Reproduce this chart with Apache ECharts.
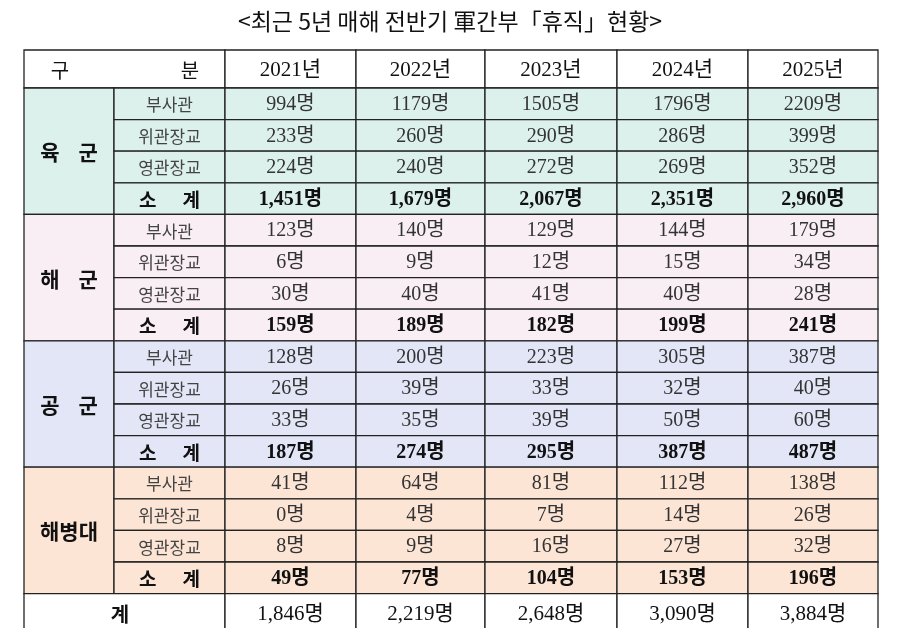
<!DOCTYPE html>
<html><head><meta charset="utf-8">
<script src="https://cdn.jsdelivr.net/npm/echarts@6/dist/echarts.min.js"></script>
<style>html,body{margin:0;background:#fff}#c{width:900px;height:628px}</style>
</head><body><div id="c"></div>
<script>
const title = '<최근 5년 매해 전반기 軍간부「휴직」현황>';
const years = ['2021년','2022년','2023년','2024년','2025년'];
const branches = ['육    군','해    군','공    군','해병대'];
const ranks = ['부사관','위관장교','영관장교','소      계'];
const army   = [[994,1179,1505,1796,2209],[233,260,290,286,399],[224,240,272,269,352],[1451,1679,2067,2351,2960]];
const navy   = [[123,140,129,144,179],[6,9,12,15,34],[30,40,41,40,28],[159,189,182,199,241]];
const air    = [[128,200,223,305,387],[26,39,33,32,40],[33,35,39,50,60],[187,274,295,387,487]];
const marine = [[41,64,81,112,138],[0,4,7,14,26],[8,9,16,27,32],[49,77,104,153,196]];
const total  = [1846,2219,2648,3090,3884];
const values = [army,navy,air,marine];

// layout
const colEdges = [24,114,225,356,485,617,748,878];
const headTop = 50, headBot = 88, rowH = 31.6;
const fills = ['#dcf1ec','#f8eef3','#e3e6f7','#fce5d5'];
const serif = '"Liberation Serif", "Noto Sans CJK KR", serif';
const sans = '"Noto Sans CJK KR", sans-serif';

const fmt = (v,comma) => (comma ? v.toLocaleString('en-US') : String(v)) + '명';
const cells = [];
cells.push({x0:24,x1:225,y0:headTop,y1:headBot,fill:'#fff',t:''});
cells.push({x0:24,x1:114,y0:headTop,y1:headBot,fill:null,t:'구',font:sans,size:20,noBorder:true,tx:60});
cells.push({x0:114,x1:225,y0:headTop,y1:headBot,fill:null,t:'분',font:sans,size:20,noBorder:true,tx:190});
years.forEach((y,i)=>cells.push({x0:colEdges[i+2],x1:colEdges[i+3],y0:headTop,y1:headBot,fill:'#fff',t:y,font:serif,size:21}));
branches.forEach((b,bi)=>{
  const top = headBot + bi*4*rowH;
  cells.push({x0:24,x1:114,y0:top,y1:top+4*rowH,fill:fills[bi],t:b,font:sans,size:21,bold:true});
  ranks.forEach((r,ri)=>{
    const y0 = top+ri*rowH, y1=y0+rowH, sub = ri===3;
    cells.push({x0:114,x1:225,y0,y1,fill:fills[bi],t:r,font:sans,size:sub?19:17,bold:sub,color:sub?'#111':'#444'});
    values[bi][ri].forEach((v,ci)=>cells.push({x0:colEdges[ci+2],x1:colEdges[ci+3],y0,y1,fill:fills[bi],t:fmt(v,sub),font:serif,size:20,bold:sub,color:sub?'#111':'#333'}));
  });
});
const tt = headBot+16*rowH;
cells.push({x0:24,x1:225,y0:tt,y1:tt+40,fill:'#fff',t:'계',font:sans,size:20,bold:true,tx:120});
total.forEach((v,ci)=>cells.push({x0:colEdges[ci+2],x1:colEdges[ci+3],y0:tt,y1:tt+40,fill:'#fff',t:fmt(v,true),font:serif,size:21}));

const chart = echarts.init(document.getElementById('c'));
chart.setOption({
  animation:false,
  title:{text:title,left:'center',top:5,textStyle:{fontFamily:sans,fontSize:23,fontWeight:'normal',color:'#111'}},
  grid:{left:0,right:0,top:0,bottom:0},
  xAxis:{type:'value',min:0,max:900,show:false},
  yAxis:{type:'value',min:0,max:628,inverse:true,show:false},
  series:[{type:'custom',data:cells.map((c,i)=>[i]),clip:false,
    renderItem:(params,api)=>{
      const c = cells[api.value(0)];
      const p0 = api.coord([c.x0,c.y0]), p1 = api.coord([c.x1,c.y1]);
      const ch = [];
      if(!c.noBorder) ch.push({type:'rect',shape:{x:p0[0],y:p0[1],width:p1[0]-p0[0],height:p1[1]-p0[1]},
        style:{fill:c.fill||'none',stroke:'#222',lineWidth:1.3}});
      if(c.t) ch.push({type:'text',style:{text:c.t,x:c.tx!=null?api.coord([c.tx,0])[0]:(p0[0]+p1[0])/2,y:(p0[1]+p1[1])/2+1,
        align:'center',verticalAlign:'middle',fontFamily:c.font,fontSize:c.size,fontWeight:c.bold?'bold':'normal',fill:c.color||'#111'}});
      return {type:'group',children:ch};
    }}]
});
</script></body></html>
